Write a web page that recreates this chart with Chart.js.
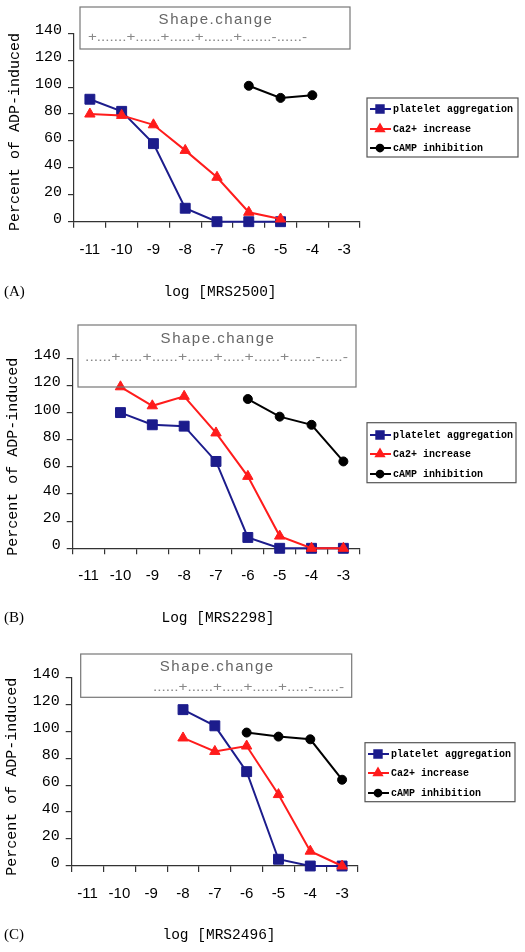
<!DOCTYPE html>
<html>
<head>
<meta charset="utf-8">
<script src="https://cdn.jsdelivr.net/npm/chart.js@4.4.1/dist/chart.umd.min.js"></script>
<style>
  html, body { margin: 0; padding: 0; background: #fff; }
  .panel { position: absolute; left: 0; width: 525px; }
</style>
</head>
<body>
<div class="panel" style="top:0;height:315px"><canvas id="chartA"></canvas></div>
<div class="panel" style="top:315px;height:315px"><canvas id="chartB"></canvas></div>
<div class="panel" style="top:630px;height:322px"><canvas id="chartC"></canvas></div>
<script>
// x categories: log concentration
const doses = ['-11', '-10', '-9', '-8', '-7', '-6', '-5', '-4', '-3'];
const yTicks = [0, 20, 40, 60, 80, 100, 120, 140];
const seriesNames = ['platelet aggregation', 'Ca2+ increase', 'cAMP inhibition'];

// (A) MRS2500
const aggA  = [91, 82, 58, 10, 0, 0, 0, null, null];
const caA   = [80, 79, 72, 53, 33, 7, 2, null, null];
const campA = [null, null, null, null, null, 101, 92, 94, null];
// (B) MRS2298
const aggB  = [null, 100, 91, 90, 64, 8, 0, 0, 0];
const caB   = [null, 119, 105, 112, 85, 53, 9, 0, 0];
const campB = [null, null, null, null, null, 110, 97, 91, 64];
// (C) MRS2496
const aggC  = [null, null, null, 116, 104, 70, 5, 0, 0];
const caC   = [null, null, null, 95, 85, 89, 53, 11, 0];
const campC = [null, null, null, null, null, 99, 96, 94, 64];

// shape change annotation rows
const shapeA = '+.......+......+......+.......+.......-......-';
const shapeB = '......+.....+......+......+.....+......+......-.....-';
const shapeC = '......+......+.....+......+.....-......-';

const STYLES = [
  { color: '#1c1c8c', point: 'rect',     radius: 7,   order: 1 },
  { color: '#ff1c1c', point: 'triangle', radius: 6,   order: 0 },
  { color: '#000000', point: 'circle',   radius: 4.5, order: 2 },
];

const decor = {
  id: 'panelDecor',
  afterDraw(chart, args, o) {
    const ctx = chart.ctx;
    ctx.save();
    // shape change box
    ctx.strokeStyle = '#777';
    ctx.lineWidth = 1.2;
    ctx.strokeRect(o.box[0], o.box[1], o.box[2] - o.box[0], o.box[3] - o.box[1]);
    ctx.fillStyle = '#666';
    ctx.font = '15px "Liberation Sans"';
    ctx.letterSpacing = '1.5px';
    ctx.textAlign = 'center';
    ctx.textBaseline = 'middle';
    ctx.fillText('Shape.change', (o.box[0] + o.box[2]) / 2 + 1, o.titleY);
    ctx.letterSpacing = '0px';
    ctx.font = '12px "Liberation Sans"';
    ctx.textAlign = 'left';
    const w = ctx.measureText(o.shape).width;
    ctx.translate(o.row[0], o.rowY);
    ctx.scale((o.row[1] - o.row[0]) / w, 1);
    ctx.fillStyle = '#888';
    ctx.fillText(o.shape, 0, 0);
    ctx.restore();

    // legend
    ctx.save();
    const lg = o.legend;
    ctx.strokeStyle = '#555';
    ctx.lineWidth = 1.2;
    ctx.strokeRect(lg[0], lg[1], lg[2] - lg[0], lg[3] - lg[1]);
    ctx.font = 'bold 10px "Liberation Mono"';
    ctx.textBaseline = 'middle';
    ctx.textAlign = 'left';
    seriesNames.forEach((name, i) => {
      const y = o.entries[i], s = STYLES[i];
      ctx.strokeStyle = s.color;
      ctx.fillStyle = s.color;
      ctx.lineWidth = 2;
      ctx.beginPath();
      ctx.moveTo(lg[0] + 3, y);
      ctx.lineTo(lg[0] + 24, y);
      ctx.stroke();
      Chart.helpers.drawPoint(ctx, { pointStyle: s.point, radius: s.radius * 0.75, rotation: 0, borderWidth: 1 }, lg[0] + 13, y);
      ctx.fillStyle = '#000';
      ctx.fillText(name, lg[0] + 26, y + 0.5);
    });
    ctx.restore();

    // titles
    ctx.save();
    ctx.fillStyle = '#000';
    ctx.textBaseline = 'middle';
    ctx.font = '14.5px "Liberation Mono"';
    ctx.textAlign = 'center';
    ctx.fillText(o.xTitle, o.xTitleX, o.xTitleY);
    ctx.font = '15px "Liberation Serif"';
    ctx.textAlign = 'left';
    ctx.fillText(o.letter, 4, o.xTitleY);
    ctx.translate(o.yTitleX, o.yTitleY);
    ctx.rotate(-Math.PI / 2);
    ctx.font = '15px "Liberation Mono"';
    ctx.textAlign = 'center';
    ctx.fillText('Percent of ADP-induced', 0, 0);
    ctx.restore();
  }
};

function makePanel(id, series, p) {
  const X_H = 40;
  const datasets = series.map((data, i) => ({
    label: seriesNames[i],
    data: data,
    borderColor: STYLES[i].color,
    backgroundColor: STYLES[i].color,
    borderWidth: 2,
    pointStyle: STYLES[i].point,
    pointRadius: STYLES[i].radius,
    pointBorderWidth: 1,
    tension: 0,
    order: STYLES[i].order,
    clip: false
  }));
  return new Chart(document.getElementById(id), {
    type: 'line',
    data: { labels: doses, datasets },
    plugins: [decor],
    options: {
      responsive: true,
      maintainAspectRatio: false,
      animation: false,
      events: [],
      layout: { padding: { left: 0, top: p.T, right: 525 - p.R, bottom: p.H - p.B - X_H } },
      plugins: {
        legend: { display: false },
        tooltip: { enabled: false },
        panelDecor: p.decor
      },
      scales: {
        x: {
          type: 'category',
          offset: true,
          afterFit: s => { s.height = X_H; },
          grid: { offset: true, drawOnChartArea: false, drawTicks: true, tickLength: 6, color: '#333', lineWidth: 1.2 },
          border: { display: true, color: '#333', width: 1.2 },
          ticks: { color: '#000', padding: 13, maxRotation: 0, autoSkip: false, font: { family: 'Liberation Sans', size: 15 } }
        },
        y: {
          min: 0, max: 140,
          afterFit: s => { s.width = p.L; },
          afterBuildTicks: s => { s.ticks = yTicks.map(v => ({ value: v })); },
          grid: { drawOnChartArea: false, drawTicks: true, tickLength: 6, color: '#333', lineWidth: 1.2 },
          border: { display: true, color: '#333', width: 1.2 },
          ticks: { color: '#000', padding: 6, labelOffset: -3, font: { family: 'Liberation Mono', size: 15 } }
        }
      }
    }
  });
}

makePanel('chartA', [aggA, caA, campA], {
  H: 315, L: 74, R: 360, T: 33.3, B: 221.7,
  decor: {
    box: [80, 7, 350, 49], titleY: 20, row: [88, 307], rowY: 38, shape: shapeA,
    legend: [367, 98, 518, 157], entries: [109, 129, 148],
    xTitle: 'log [MRS2500]', xTitleX: 220, xTitleY: 292, letter: '(A)',
    yTitleX: 15, yTitleY: 132
  }
});
makePanel('chartB', [aggB, caB, campB], {
  H: 315, L: 72.7, R: 359.3, T: 43.3, B: 233.3,
  decor: {
    box: [78, 10, 356, 72], titleY: 24, row: [85, 348], rowY: 43, shape: shapeB,
    legend: [367, 107.7, 516, 167.7], entries: [120, 139, 159],
    xTitle: 'Log [MRS2298]', xTitleX: 218, xTitleY: 302.7, letter: '(B)',
    yTitleX: 13, yTitleY: 141.7
  }
});
makePanel('chartC', [aggC, caC, campC], {
  H: 322, L: 71.7, R: 358, T: 47.3, B: 236,
  decor: {
    box: [80.7, 24, 351.7, 67.3], titleY: 37, row: [153, 344], rowY: 58, shape: shapeC,
    legend: [365, 112.7, 515, 171.7], entries: [124, 143, 163],
    xTitle: 'log [MRS2496]', xTitleX: 219, xTitleY: 305, letter: '(C)',
    yTitleX: 12, yTitleY: 146.7
  }
});
</script>
</body>
</html>
